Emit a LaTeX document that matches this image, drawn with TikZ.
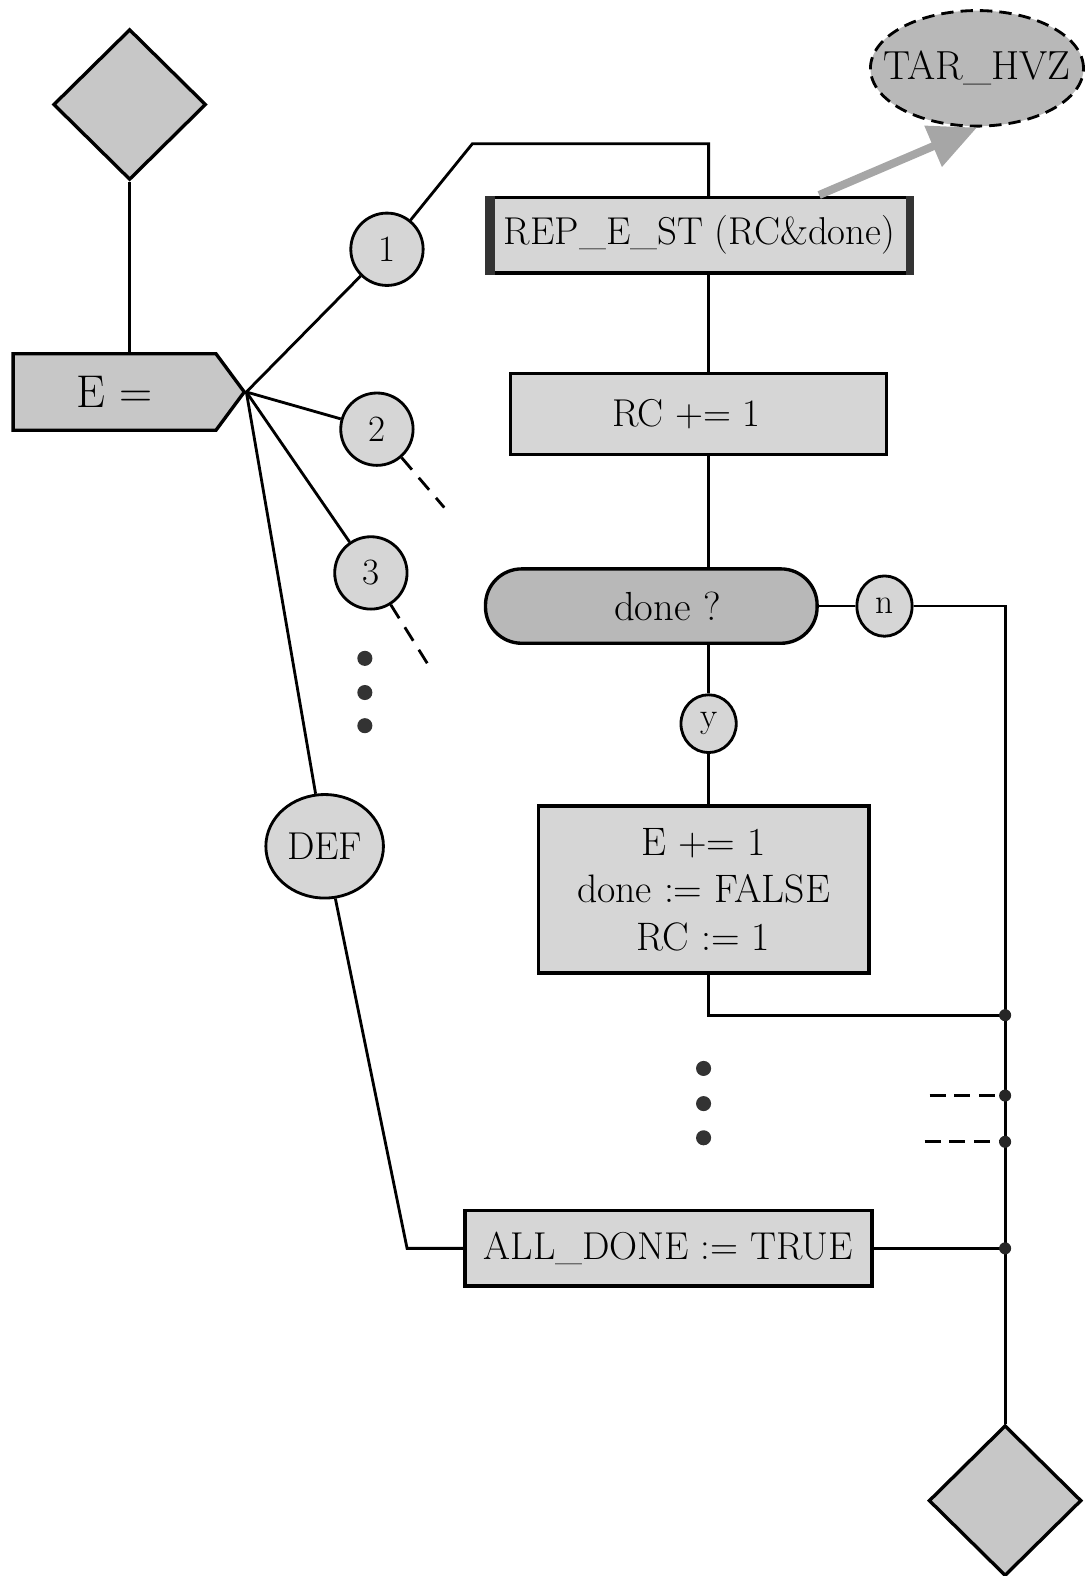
\documentclass[tikz,border=0pt]{standalone}
\usetikzlibrary{shapes.geometric,shapes.symbols,arrows.meta,calc}
\definecolor{boxgray}{gray}{0.84}
\definecolor{darkfill}{gray}{0.72}
\definecolor{midfill}{gray}{0.78}
\begin{document}
\begin{tikzpicture}[x=0.02cm,y=-0.02cm,
  conn/.style={line width=1.6pt},
  proc/.style={draw, line width=1.9pt, fill=boxgray, rectangle, inner sep=0pt, font=\fontsize{22}{25}\selectfont},
  diam/.style={draw, line width=1.9pt, fill=midfill, diamond, inner sep=0pt, minimum width=3.04cm, minimum height=3cm},
  circ/.style={draw, line width=1.6pt, fill=boxgray, ellipse, inner sep=0pt, font=\fontsize{21}{23}\selectfont},
  jdot/.style={circle, fill=black!85, inner sep=0pt, minimum size=0.24cm},
  edot/.style={circle, fill=black!80, inner sep=0pt, minimum size=0.3cm},
  bar/.style={fill=black!80}
]
\useasboundingbox (0,0) rectangle (1082,1568);

\coordinate (spine) at (705,0);
\coordinate (top1) at (470,143);
\coordinate (rtop) at (1000,603);
\coordinate (bendD) at (405,1242);
\coordinate (j1) at (1000,1010);
\coordinate (j2) at (1000,1090);
\coordinate (j3) at (1000,1136);
\coordinate (d2) at (925,1090);
\coordinate (d3) at (920,1136);
\coordinate (astart) at (815,194);
\coordinate (dash2) at (442,505);
\coordinate (dash3) at (427,663);

% nodes
\node[diam] (dtop) at (129,104) {};
\node[draw, line width=1.9pt, fill=midfill, signal, signal to=east, signal pointer angle=107,
      inner sep=0pt, minimum width=4.6cm, minimum height=1.52cm,
      font=\fontsize{26}{28}\selectfont] (E) at (114,390) {E =};
\node[proc, minimum width=8.46cm, minimum height=1.5cm] (rep) at (696,234) {REP\_E\_ST (RC\&done)};
\fill[bar] (rep.north west) rectangle ($(rep.south west)+(10,0)$);
\fill[bar] (rep.north east) rectangle ($(rep.south east)+(-8,0)$);
\node[draw, dash pattern=on 7pt off 4pt, line width=1.6pt, fill=darkfill, ellipse, inner sep=0pt,
      minimum width=4.24cm, minimum height=2.3cm, font=\fontsize{23}{25}\selectfont] (tar) at (972,68) {\makebox[0pt]{TAR\_HVZ}};
\node[proc, minimum width=7.48cm, minimum height=1.62cm] (rc) at (695,412) {RC += 1\hspace*{0.48cm}};
\node[draw, line width=1.9pt, fill=darkfill, rectangle, rounded corners=0.72cm, inner sep=0pt,
      minimum width=6.6cm, minimum height=1.48cm, font=\fontsize{23}{25}\selectfont] (done) at (648,603) {\hspace*{0.64cm}done ?};
\node[proc, align=center, minimum width=6.58cm, minimum height=3.32cm,
      font=\fontsize{22.5}{26.8}\selectfont] (ebox) at (700,885) {E += 1\\done := FALSE\\RC := 1};
\node[proc, minimum width=8.1cm, minimum height=1.5cm] (alld) at (665,1242) {ALL\_DONE := TRUE};
\node[diam] (dbot) at (1000,1493) {};

\node[circ, minimum width=1.44cm, minimum height=1.44cm] (c1) at (385,248) {1};
\node[circ, minimum width=1.44cm, minimum height=1.44cm] (c2) at (375,427) {2};
\node[circ, minimum width=1.44cm, minimum height=1.44cm] (c3) at (369,570) {3};
\node[circ, minimum width=2.34cm, minimum height=2.06cm, font=\fontsize{22}{24}\selectfont] (def) at (323,842) {DEF};
\node[circ, minimum width=1.1cm, minimum height=1.2cm, font=\fontsize{20}{22}\selectfont] (n) at (880,603) {n};
\node[circ, minimum width=1.1cm, minimum height=1.15cm, font=\fontsize{20}{22}\selectfont] (y) at (705,720) {y};

\node[edot] (e1) at (363,655) {};
\node[edot] (e2) at (363,689) {};
\node[edot] (e3) at (363,722) {};
\node[edot] (f1) at (700,1063) {};
\node[edot] (f2) at (700,1098) {};
\node[edot] (f3) at (700,1132) {};

% connectors
\draw[conn] (dtop.south) -- (E.north -| dtop.south);
\draw[conn] (E.east) -- (c1);
\draw[conn] (c1) -- (top1) -| (rep.north -| spine);
\draw[conn] (E.east) -- (c2);
\draw[conn] (E.east) -- (c3);
\draw[conn] (E.east) -- (def);
\draw[conn] (def) -- (bendD) -- (alld.west);
\draw[conn, dash pattern=on 9pt off 6pt] (c2.-49) -- (dash2);
\draw[conn, dash pattern=on 9pt off 6pt] (c3.-58) -- (dash3);

\draw[line width=0.16cm, draw=gray!70, -{Triangle[length=0.95cm,width=0.85cm]}] (astart) -- (tar.south);

\draw[conn] (rep.south -| spine) -- (rc.north -| spine);
\draw[conn] (rc.south -| spine) -- (done.north -| spine);
\draw[conn] (done.south -| spine) -- (y);
\draw[conn] (y) -- (ebox.north -| spine);
\draw[conn] (done.east) -- (n);
\draw[conn] (n) -- (rtop) -- (dbot.north);
\draw[conn] (ebox.south -| spine) |- (j1);
\draw[conn] (alld.east) -- (alld.east -| rtop);
\draw[conn, dash pattern=on 9pt off 5pt] (d2) -- (j2);
\draw[conn, dash pattern=on 9pt off 5pt] (d3) -- (j3);

\node[jdot] (jd1) at (j1) {};
\node[jdot] (jd2) at (j2) {};
\node[jdot] (jd3) at (j3) {};
\node[jdot] (jd4) at (alld.east -| rtop) {};
\end{tikzpicture}
\end{document}
